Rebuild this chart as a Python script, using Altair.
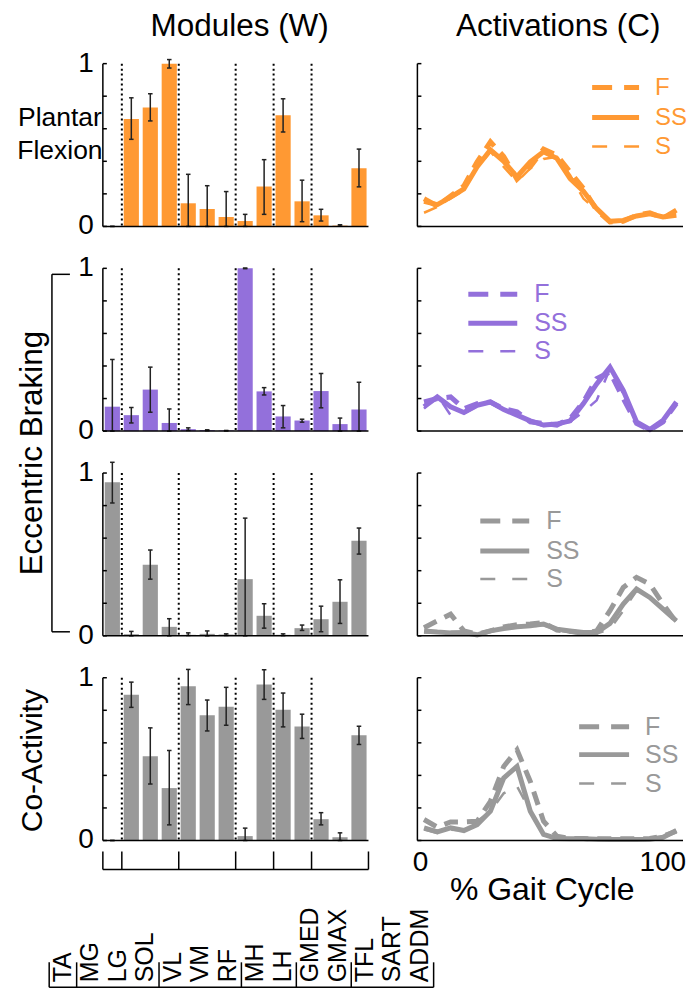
import altair as alt
import pandas as pd

FONT = "Liberation Sans"

# ---------------- data ----------------
muscles = ["TA", "MG", "LG", "SOL", "VL", "VM", "RF", "MH", "LH", "GMED", "GMAX", "TFL", "SART", "ADDM"]
group_edges = [0, 1, 4, 7, 9, 11, 14]
dotted_edges = [1, 4, 7, 9, 11]
ytick_vals = [0, 0.2, 0.4, 0.6, 0.8, 1.0]
ylabel_vals = [0, 1]
xlabel_vals = [0, 100]

row_titles = ["Plantar", "Flexion", "Eccentric Braking", "Co-Activity"]
col_titles = ["Modules (W)", "Activations (C)"]
x_title = "% Gait Cycle"
series_names = ["F", "SS", "S"]

pf_w = [0.0, 0.66, 0.73, 1.0, 0.142, 0.107, 0.058, 0.033, 0.245, 0.683, 0.154, 0.068, 0.005, 0.358]
pf_lo = [0.0, 0.535, 0.648, 0.973, 0.0, 0.0, 0.0, 0.0, 0.074, 0.58, 0.029, 0.033, 0.002, 0.243]
pf_hi = [0.0, 0.79, 0.815, 1.025, 0.32, 0.25, 0.214, 0.074, 0.41, 0.784, 0.284, 0.105, 0.01, 0.475]

eb1_w = [0.15, 0.098, 0.255, 0.05, 0.012, 0.006, 0.003, 1.0, 0.244, 0.09, 0.065, 0.246, 0.043, 0.132]
eb1_lo = [0.0, 0.05, 0.116, 0.0, 0.004, 0.002, 0.001, 0.998, 0.222, 0.02, 0.055, 0.143, 0.0, 0.0]
eb1_hi = [0.44, 0.145, 0.393, 0.136, 0.02, 0.008, 0.004, 1.002, 0.267, 0.157, 0.073, 0.354, 0.08, 0.30]

eb2_w = [0.943, 0.01, 0.436, 0.055, 0.006, 0.012, 0.008, 0.348, 0.123, 0.006, 0.047, 0.102, 0.209, 0.584]
eb2_lo = [0.816, 0.0, 0.348, 0.0, 0.002, 0.0, 0.002, 0.0, 0.047, 0.001, 0.033, 0.025, 0.076, 0.502]
eb2_hi = [1.066, 0.027, 0.527, 0.105, 0.018, 0.03, 0.012, 0.723, 0.197, 0.012, 0.066, 0.182, 0.344, 0.662]

ca_w = [0.0, 0.896, 0.518, 0.322, 0.947, 0.769, 0.822, 0.027, 0.959, 0.804, 0.70, 0.131, 0.02, 0.647]
ca_lo = [0.0, 0.818, 0.347, 0.096, 0.835, 0.673, 0.708, 0.0, 0.867, 0.698, 0.627, 0.096, 0.0, 0.59]
ca_hi = [0.0, 0.973, 0.692, 0.553, 1.051, 0.863, 0.941, 0.076, 1.049, 0.906, 0.776, 0.171, 0.047, 0.702]

gait_pct = [2.5, 7.5, 12.5, 17.5, 22.5, 27.5, 32.5, 37.5, 42.5, 47.5,
            52.5, 57.5, 62.5, 67.5, 72.5, 77.5, 82.5, 87.5, 92.5, 97.5]

pf_F = [0.17, 0.125, 0.187, 0.249, 0.397, 0.52, 0.43, 0.29, 0.366, 0.475, 0.438, 0.335, 0.233, 0.099, 0.027, 0.031, 0.068, 0.084, 0.051, 0.10]
pf_SS = [0.154, 0.134, 0.18, 0.23, 0.366, 0.47, 0.40, 0.305, 0.397, 0.459, 0.418, 0.294, 0.216, 0.109, 0.031, 0.037, 0.064, 0.078, 0.058, 0.068]
pf_S = [0.084, 0.119, 0.171, 0.222, 0.36, 0.459, 0.366, 0.274, 0.356, 0.414, 0.428, 0.315, 0.171, 0.099, 0.035, 0.041, 0.066, 0.078, 0.058, 0.078]

eb1_F = [0.179, 0.20, 0.21, 0.138, 0.169, 0.179, 0.138, 0.118, 0.057, 0.047, 0.037, 0.077, 0.179, 0.322, 0.363, 0.20, 0.047, 0.006, 0.057, 0.169]
eb1_SS = [0.149, 0.21, 0.149, 0.114, 0.159, 0.179, 0.132, 0.098, 0.063, 0.037, 0.043, 0.063, 0.169, 0.29, 0.393, 0.25, 0.057, 0.01, 0.067, 0.179]
eb1_S = [0.138, 0.22, 0.098, 0.108, 0.153, 0.173, 0.128, 0.098, 0.057, 0.031, 0.037, 0.057, 0.118, 0.189, 0.383, 0.23, 0.067, 0.006, 0.067, 0.179]

eb2_F = [0.05, 0.092, 0.133, 0.03, 0.01, 0.03, 0.055, 0.068, 0.072, 0.082, 0.035, 0.027, 0.014, 0.03, 0.154, 0.297, 0.359, 0.318, 0.195, 0.082]
eb2_SS = [0.03, 0.023, 0.018, 0.02, 0.006, 0.03, 0.045, 0.055, 0.061, 0.072, 0.041, 0.03, 0.02, 0.02, 0.076, 0.195, 0.287, 0.236, 0.164, 0.092]
eb2_S = [0.02, 0.02, 0.014, 0.014, 0.01, 0.027, 0.041, 0.051, 0.057, 0.066, 0.035, 0.02, 0.014, 0.014, 0.041, 0.154, 0.277, 0.236, 0.164, 0.092]

ca_F = [0.129, 0.082, 0.114, 0.114, 0.118, 0.241, 0.455, 0.557, 0.363, 0.118, 0.027, 0.012, 0.012, 0.01, 0.01, 0.01, 0.01, 0.012, 0.027, 0.057]
ca_SS = [0.078, 0.053, 0.078, 0.061, 0.098, 0.18, 0.384, 0.455, 0.18, 0.037, 0.012, 0.01, 0.01, 0.008, 0.006, 0.006, 0.006, 0.008, 0.02, 0.061]
ca_S = [0.067, 0.047, 0.067, 0.061, 0.118, 0.18, 0.29, 0.333, 0.18, 0.037, 0.012, 0.01, 0.01, 0.008, 0.006, 0.006, 0.006, 0.008, 0.02, 0.061]

# ---------------- style ----------------
ORANGE = "#FF9933"
PURPLE = "#9370DB"
GRAY = "#999999"
W, H = 266, 163
TITLE_FS = 31.5
TICK_FS = 28

xs_bar = alt.Scale(domain=[0, 14], nice=False, zero=False)
ys = alt.Scale(domain=[0, 1], nice=False, zero=False)
xs_line = alt.Scale(domain=[0, 100], nice=False, zero=False)

line_styles = {
    "F": dict(strokeWidth=5, strokeDash=[14, 9]),
    "SS": dict(strokeWidth=5),
    "S": dict(strokeWidth=2.5, strokeDash=[14, 14]),
}
legend_styles = {
    "F": dict(strokeWidth=5, strokeDash=[20, 12]),
    "SS": dict(strokeWidth=5),
    "S": dict(strokeWidth=2.5, strokeDash=[15, 17]),
}

# label band for muscle names under the figure (pixel geometry)
LBL_START_PX = -53.75
LBL_STEP_PX = 27.5
UNIT_PX = W / 14.0


def text_layer(label, x, y, size=TITLE_FS, angle=0, align="center", color="black"):
    return alt.Chart(pd.DataFrame({"label": [label]})).mark_text(
        font=FONT, fontSize=size, angle=angle, align=align, baseline="middle", color=color
    ).encode(text="label:N", x=alt.value(x), y=alt.value(y))


def rule_px(x, x2, y, y2, width=1.5, color="black"):
    return alt.Chart(pd.DataFrame({"a": [0]})).mark_rule(color=color, strokeWidth=width).encode(
        x=alt.value(x), x2=alt.value(x2), y=alt.value(y), y2=alt.value(y2)
    )


def frame_axes():
    # left and bottom axis lines of a panel
    return [rule_px(0, 0, 0, H), rule_px(0, W, H, H)]


def inward_ticks():
    return alt.Chart(pd.DataFrame({"t": ytick_vals})).mark_rule(color="black", strokeWidth=1.5).encode(
        y=alt.Y("t:Q", scale=ys, axis=None), x=alt.value(0), x2=alt.value(4)
    )


def y_labels():
    df = pd.DataFrame({"v": ylabel_vals, "lab": [str(v) for v in ylabel_vals]})
    return alt.Chart(df).mark_text(font=FONT, fontSize=TICK_FS, align="right", baseline="middle",
                                   color="black").encode(
        y=alt.Y("v:Q", scale=ys, axis=None), x=alt.value(-9), text="lab:N")


def bar_panel(vals, lo, hi, color, extras=None):
    df = pd.DataFrame({"muscle": muscles, "idx": list(range(14)), "val": vals, "lo": lo, "hi": hi})
    base = alt.Chart(df).transform_calculate(
        x0="datum.idx + 0.1", x1="datum.idx + 0.9", xc="datum.idx + 0.5",
        cl="datum.idx + 0.38", cr="datum.idx + 0.62"
    )
    bars = base.mark_bar(color=color).encode(
        x=alt.X("x0:Q", scale=xs_bar, axis=None),
        x2="x1:Q",
        y=alt.Y("val:Q", scale=ys, axis=None),
        y2=alt.datum(0),
    )
    err = base.mark_rule(color="#222222", strokeWidth=1.5).encode(
        x=alt.X("xc:Q", scale=xs_bar, axis=None), y=alt.Y("lo:Q", scale=ys, axis=None), y2="hi:Q")
    cap_hi = base.mark_rule(color="#222222", strokeWidth=1.5).encode(
        x=alt.X("cl:Q", scale=xs_bar, axis=None), x2="cr:Q", y=alt.Y("hi:Q", scale=ys, axis=None))
    cap_lo = base.mark_rule(color="#222222", strokeWidth=1.5).encode(
        x=alt.X("cl:Q", scale=xs_bar, axis=None), x2="cr:Q", y=alt.Y("lo:Q", scale=ys, axis=None))
    dots = alt.Chart(pd.DataFrame({"b": dotted_edges})).mark_rule(
        color="black", strokeWidth=2, strokeDash=[2, 3]
    ).encode(x=alt.X("b:Q", scale=xs_bar, axis=None), y=alt.value(0), y2=alt.value(H))
    layers = [bars, dots, err, cap_hi, cap_lo, inward_ticks(), y_labels()] + frame_axes()
    if extras:
        layers += extras
    return alt.layer(*layers).properties(width=W, height=H)


def line_panel(F, SS, S, color, legend_pos, extras=None):
    df = pd.DataFrame({"pct": gait_pct, "F": F, "SS": SS, "S": S})
    layers = []
    for name in ["S", "SS", "F"]:
        layers.append(alt.Chart(df).mark_line(color=color, strokeCap="butt", strokeJoin="miter",
                                              **line_styles[name]).encode(
            x=alt.X("pct:Q", scale=xs_line, axis=None),
            y=alt.Y(f"{name}:Q", scale=ys, axis=None)))
    layers.append(inward_ticks())
    layers += frame_axes()
    lx0, lx1, tx, ly, fs = legend_pos
    for j, name in enumerate(series_names):
        layers.append(alt.Chart(pd.DataFrame({"s": [name]})).mark_rule(
            color=color, strokeCap="butt", **legend_styles[name]).encode(
            x=alt.value(lx0), x2=alt.value(lx1), y=alt.value(ly[j])))
        layers.append(text_layer(name, tx, ly[j], size=fs, align="left", color=color))
    if extras:
        layers += extras
    return alt.layer(*layers).properties(width=W, height=H)


# ---------- extras ----------
row0_bar_extras = [
    text_layer(col_titles[0], 137, -37),
    text_layer(row_titles[0], -43, 54, size=26.5),
    text_layer(row_titles[1], -43, 87, size=26.5),
]
row0_line_extras = [text_layer(col_titles[1], 141, -37)]
row1_extras = [
    text_layer(row_titles[2], -70, 185, angle=270),
    rule_px(-51, -51, 6, 364),
    rule_px(-51, -33, 6, 6),
    rule_px(-51, -33, 364, 364),
]

edge_df = pd.DataFrame({"e": group_edges})
lbl_start_u = LBL_START_PX / UNIT_PX
lbl_step_u = LBL_STEP_PX / UNIT_PX
upper_h = alt.Chart(pd.DataFrame({"a": [0], "b": [14]})).mark_rule(color="black", strokeWidth=1.5).encode(
    x=alt.X("a:Q", scale=xs_bar, axis=None), x2="b:Q", y=alt.value(192))
upper_t = alt.Chart(edge_df).mark_rule(color="black", strokeWidth=1.5).encode(
    x=alt.X("e:Q", scale=xs_bar, axis=None), y=alt.value(174), y2=alt.value(192))
lower_h = alt.Chart(pd.DataFrame({"a": [0], "b": [14]})).transform_calculate(
    la=f"{lbl_start_u} + {lbl_step_u} * datum.a", lb=f"{lbl_start_u} + {lbl_step_u} * datum.b"
).mark_rule(color="black", strokeWidth=1.5).encode(
    x=alt.X("la:Q", scale=xs_bar, axis=None), x2="lb:Q", y=alt.value(310))
lower_t = alt.Chart(edge_df).transform_calculate(
    le=f"{lbl_start_u} + {lbl_step_u} * datum.e"
).mark_rule(color="black", strokeWidth=1.5).encode(
    x=alt.X("le:Q", scale=xs_bar, axis=None), y=alt.value(285), y2=alt.value(310))
mlabels = alt.Chart(pd.DataFrame({"muscle": muscles, "idx": list(range(14))})).transform_calculate(
    lx=f"{lbl_start_u} + {lbl_step_u} * (datum.idx + 0.5)"
).mark_text(font=FONT, fontSize=25, angle=270, align="left", baseline="middle", color="black").encode(
    x=alt.X("lx:Q", scale=xs_bar, axis=None), y=alt.value(305), text="muscle:N")

row3_bar_extras = [text_layer(row_titles[3], -70, 83, size=30, angle=270),
                   upper_h, upper_t, lower_h, lower_t, mlabels]

xlab_df = pd.DataFrame({"v": xlabel_vals, "lab": [str(v) for v in xlabel_vals]})
x0_label = alt.Chart(xlab_df[xlab_df.v == xlabel_vals[0]]).mark_text(
    font=FONT, fontSize=TICK_FS, align="center", baseline="middle", color="black", dx=3).encode(
    x=alt.X("v:Q", scale=xs_line, axis=None), y=alt.value(186), text="lab:N")
x1_label = alt.Chart(xlab_df[xlab_df.v == xlabel_vals[1]]).mark_text(
    font=FONT, fontSize=TICK_FS, align="right", baseline="middle", color="black", dx=3).encode(
    x=alt.X("v:Q", scale=xs_line, axis=None), y=alt.value(186), text="lab:N")
row3_line_extras = [x0_label, x1_label, text_layer(x_title, 125, 213, size=32)]

panels = [
    bar_panel(pf_w, pf_lo, pf_hi, ORANGE, row0_bar_extras),
    line_panel(pf_F, pf_SS, pf_S, ORANGE, (175, 222, 238, [24, 54, 83], 24), row0_line_extras),
    bar_panel(eb1_w, eb1_lo, eb1_hi, PURPLE, row1_extras),
    line_panel(eb1_F, eb1_SS, eb1_S, PURPLE, (51, 100, 117, [26, 55, 83], 25)),
    bar_panel(eb2_w, eb2_lo, eb2_hi, GRAY),
    line_panel(eb2_F, eb2_SS, eb2_S, GRAY, (63, 112, 129, [48, 78, 106], 25)),
    bar_panel(ca_w, ca_lo, ca_hi, GRAY, row3_bar_extras),
    line_panel(ca_F, ca_SS, ca_S, GRAY, (162, 212, 228, [49, 77, 106], 25), row3_line_extras),
]

chart = alt.concat(*panels, columns=2, spacing={"row": 42, "column": 49}, bounds="flush").properties(
    padding={"left": 9, "top": 2, "right": 0, "bottom": 0}
).configure(background="white", font=FONT).configure_view(stroke=None)

chart.save("out.html", embed_options={"renderer": "svg", "actions": False})
